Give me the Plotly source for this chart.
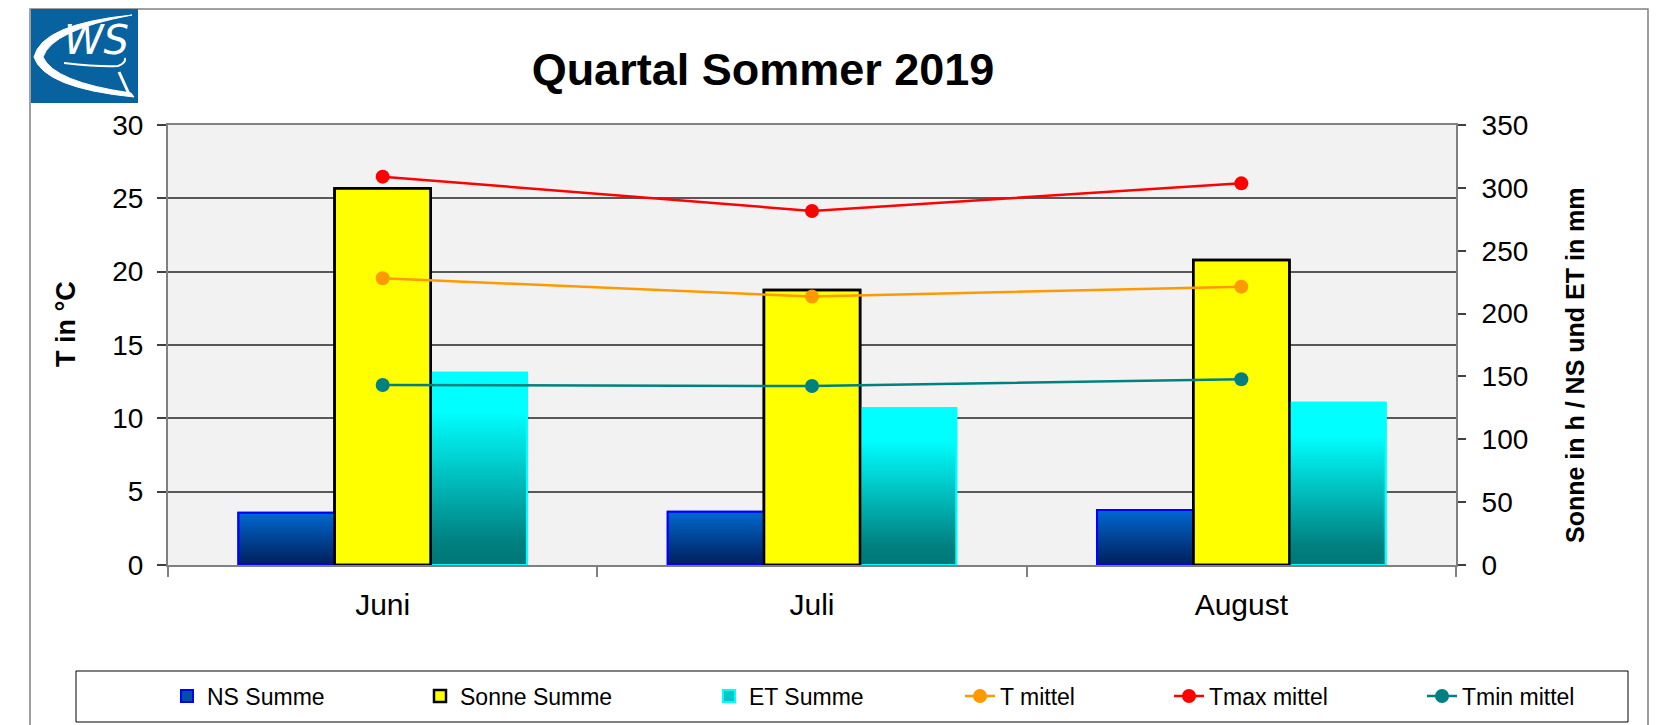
import plotly.graph_objects as go

# ---------------- data ----------------
months = ["Juni", "Juli", "August"]
ns_summe = [41.6, 42.4, 43.8]          # mm (right axis)
sonne_summe = [299.6, 218.8, 242.6]    # h (right axis)
et_summe = [153.0, 124.6, 129.1]       # mm (right axis)
t_mittel = [19.55, 18.3, 18.98]        # °C (left axis)
tmax_mittel = [26.48, 24.14, 26.02]
tmin_mittel = [12.27, 12.2, 12.66]
left_ticks = [0, 5, 10, 15, 20, 25, 30]
right_ticks = [0, 50, 100, 150, 200, 250, 300, 350]

# ---------------- geometry ----------------
W, H = 1666, 725
OFF = 8                       # page body margin
L, R, T, B = 160, 218, 117, 168
PW = W - L - R
PH = H - T - B


def px(x):
    """screen x -> paper x"""
    return (x - OFF - L) / PW


def py(y):
    """screen y -> paper y"""
    return (H - B - (y - OFF)) / PH


FONT = "Liberation Sans, Arial, sans-serif"
BAR_W = 0.224
idx = list(range(len(months)))

fig = go.Figure()

bars = [
    ("NS Summe", ns_summe, -1.5, "#0050a8", "#0000ff", 2,
     [[0, "#001f5a"], [1, "#0068d0"]]),
    ("Sonne Summe", sonne_summe, -0.5, "#ffff00", "#000000", 2.5, None),
    ("ET Summe", et_summe, 0.5, "#00c8c8", "#00ffff", 2,
     [[0, "#007676"], [0.12, "#008080"], [0.8, "#00ffff"], [1, "#00ffff"]]),
]

legend_ids = ["legend", "legend2", "legend3", "legend4", "legend5", "legend6"]

for n, (name, vals, k, col, lcol, lw, grad) in enumerate(bars):
    fig.add_trace(go.Bar(
        x=idx, y=vals, name=name, width=BAR_W, offset=k * BAR_W,
        marker=dict(color=col, line=dict(color=lcol, width=lw)),
        yaxis="y", legend=legend_ids[n],
    ))

# gradient overlays for NS and ET bars (same geometry as the bars)
for name, vals, k, col, lcol, lw, grad in bars:
    if grad is None:
        continue
    for i, v in zip(idx, vals):
        x0 = i + k * BAR_W
        fig.add_trace(go.Scatter(
            x=[x0, x0 + BAR_W, x0 + BAR_W, x0, x0], y=[0, 0, v, v, 0],
            mode="lines", fill="toself",
            fillgradient=dict(type="vertical", colorscale=grad),
            line=dict(color=lcol, width=lw), showlegend=False, hoverinfo="skip",
            yaxis="y",
        ))

# Sonne outline redrawn on top so its black frame is complete
for i, v in zip(idx, sonne_summe):
    x0 = i - 0.5 * BAR_W
    fig.add_trace(go.Scatter(
        x=[x0, x0 + BAR_W, x0 + BAR_W, x0, x0], y=[0, 0, v, v, 0],
        mode="lines", line=dict(color="#000000", width=2.5),
        showlegend=False, hoverinfo="skip", yaxis="y",
    ))

lines = [
    ("T mittel", t_mittel, "#ff9900"),
    ("Tmax mittel", tmax_mittel, "#ff0000"),
    ("Tmin mittel", tmin_mittel, "#008080"),
]
for n, (name, vals, col) in enumerate(lines):
    fig.add_trace(go.Scatter(
        x=idx, y=vals, name=name, mode="lines+markers",
        line=dict(color=col, width=2.5), marker=dict(color=col, size=14),
        yaxis="y2", legend=legend_ids[3 + n],
    ))

# legends: one per entry, placed like the reference
text_starts = [206, 459, 748, 999, 1208, 1461]
leg_layout = {}
for lid, ts in zip(legend_ids, text_starts):
    leg_layout[lid] = dict(
        x=px(ts - 39), xanchor="left", y=py(696), yanchor="middle",
        orientation="h", bgcolor="rgba(0,0,0,0)", borderwidth=0,
        font=dict(family=FONT, size=23, color="#000000"),
    )

shapes = [
    # outer frame
    dict(type="rect", xref="paper", yref="paper", x0=px(30), x1=px(1648),
         y0=py(770), y1=py(9), line=dict(color="#808080", width=1.5), layer="below"),
    # legend frame
    dict(type="rect", xref="paper", yref="paper", x0=px(76), x1=px(1628),
         y0=py(722), y1=py(671), line=dict(color="#000000", width=1)),
    # logo
    dict(type="rect", xref="paper", yref="paper", x0=px(31), x1=px(138),
         y0=py(103), y1=py(9), fillcolor="#07629f", line=dict(width=0)),
]


def path(points_cmd):
    out = []
    for item in points_cmd:
        if isinstance(item, str):
            out.append(item)
        else:
            out.append(f"{px(item[0]):.5f},{py(item[1]):.5f}")
    return " ".join(out)


swoosh = path(["M", (132, 15), "Q", (42, 24), (34, 57), "Q", (44, 88), (134, 97),
               "L", (131, 93), "Q", (54, 82), (43, 57), "Q", (52, 30), (132, 15), "Z"])
shapes.append(dict(type="path", xref="paper", yref="paper", path=swoosh,
                   fillcolor="#ffffff", line=dict(color="#ffffff", width=1)))
under = path(["M", (64, 63), "Q", (100, 67), (118, 66), "Q", (126, 63), (125, 58)])
shapes.append(dict(type="path", xref="paper", yref="paper", path=under,
                   line=dict(color="#ffffff", width=2)))
hook = path(["M", (119, 72), "L", (129, 94)])
shapes.append(dict(type="path", xref="paper", yref="paper", path=hook,
                   line=dict(color="#ffffff", width=3)))

annotations = [
    dict(text="<i>WS</i>", xref="paper", yref="paper", x=px(96), y=py(40),
         xanchor="center", yanchor="middle", showarrow=False,
         font=dict(family="DejaVu Sans, sans-serif", size=40, color="#ffffff")),
    # axis titles
    dict(text="<b>T in °C</b>", xref="paper", yref="paper", x=px(66), y=py(324),
         xanchor="center", yanchor="middle", showarrow=False, textangle=-90,
         font=dict(family=FONT, size=27, color="#000000")),
    dict(text="<b>Sonne in h / NS und ET in mm</b>", xref="paper", yref="paper",
         x=px(1575), y=py(365), xanchor="center", yanchor="middle",
         showarrow=False, textangle=-90,
         font=dict(family=FONT, size=25, color="#000000")),
]

fig.update_layout(
    width=W, height=H,
    margin=dict(l=L, r=R, t=T, b=B, autoexpand=False),
    paper_bgcolor="#ffffff", plot_bgcolor="#f2f2f2",
    barmode="overlay",
    title=dict(text="<b>Quartal Sommer 2019</b>", x=(763 - OFF) / W, xref="container",
               xanchor="center", y=1 - (69 - OFF) / H, yref="container",
               yanchor="middle",
               font=dict(family=FONT, size=45, color="#000000")),
    font=dict(family=FONT, color="#000000"),
    xaxis=dict(
        range=[-0.5, 2.5], tickmode="array", tickvals=idx, ticktext=months,
        ticks="", showgrid=False, zeroline=False,
        showline=True, linecolor="#808080", linewidth=2, mirror=True,
        tickfont=dict(family=FONT, size=30, color="#000000"),
        ticklabelstandoff=12,
        minor=dict(tickmode="array", tickvals=[-0.5, 0.5, 1.5, 2.5],
                   ticks="outside", ticklen=10, tickcolor="#808080", tickwidth=1.5),
    ),
    yaxis=dict(
        side="right", range=[0, 350], tickmode="array", tickvals=right_ticks,
        ticks="outside", ticklen=8, tickcolor="#404040", tickwidth=1.5,
        showgrid=False, zeroline=False,
        showline=True, linecolor="#808080", linewidth=2,
        tickfont=dict(family=FONT, size=28, color="#000000"),
        ticklabelstandoff=10,
    ),
    yaxis2=dict(
        overlaying="y", side="left", range=[0, 30], tickmode="array",
        tickvals=left_ticks, ticks="outside", ticklen=9, tickcolor="#404040",
        tickwidth=1.5, showgrid=True, gridcolor="#585858", gridwidth=1.5,
        zeroline=False, showline=True, linecolor="#808080", linewidth=2,
        tickfont=dict(family=FONT, size=28, color="#000000"),
        ticklabelstandoff=8,
    ),
    shapes=shapes,
    annotations=annotations,
    showlegend=True,
    **leg_layout,
)

fig.write_html("out.html")
